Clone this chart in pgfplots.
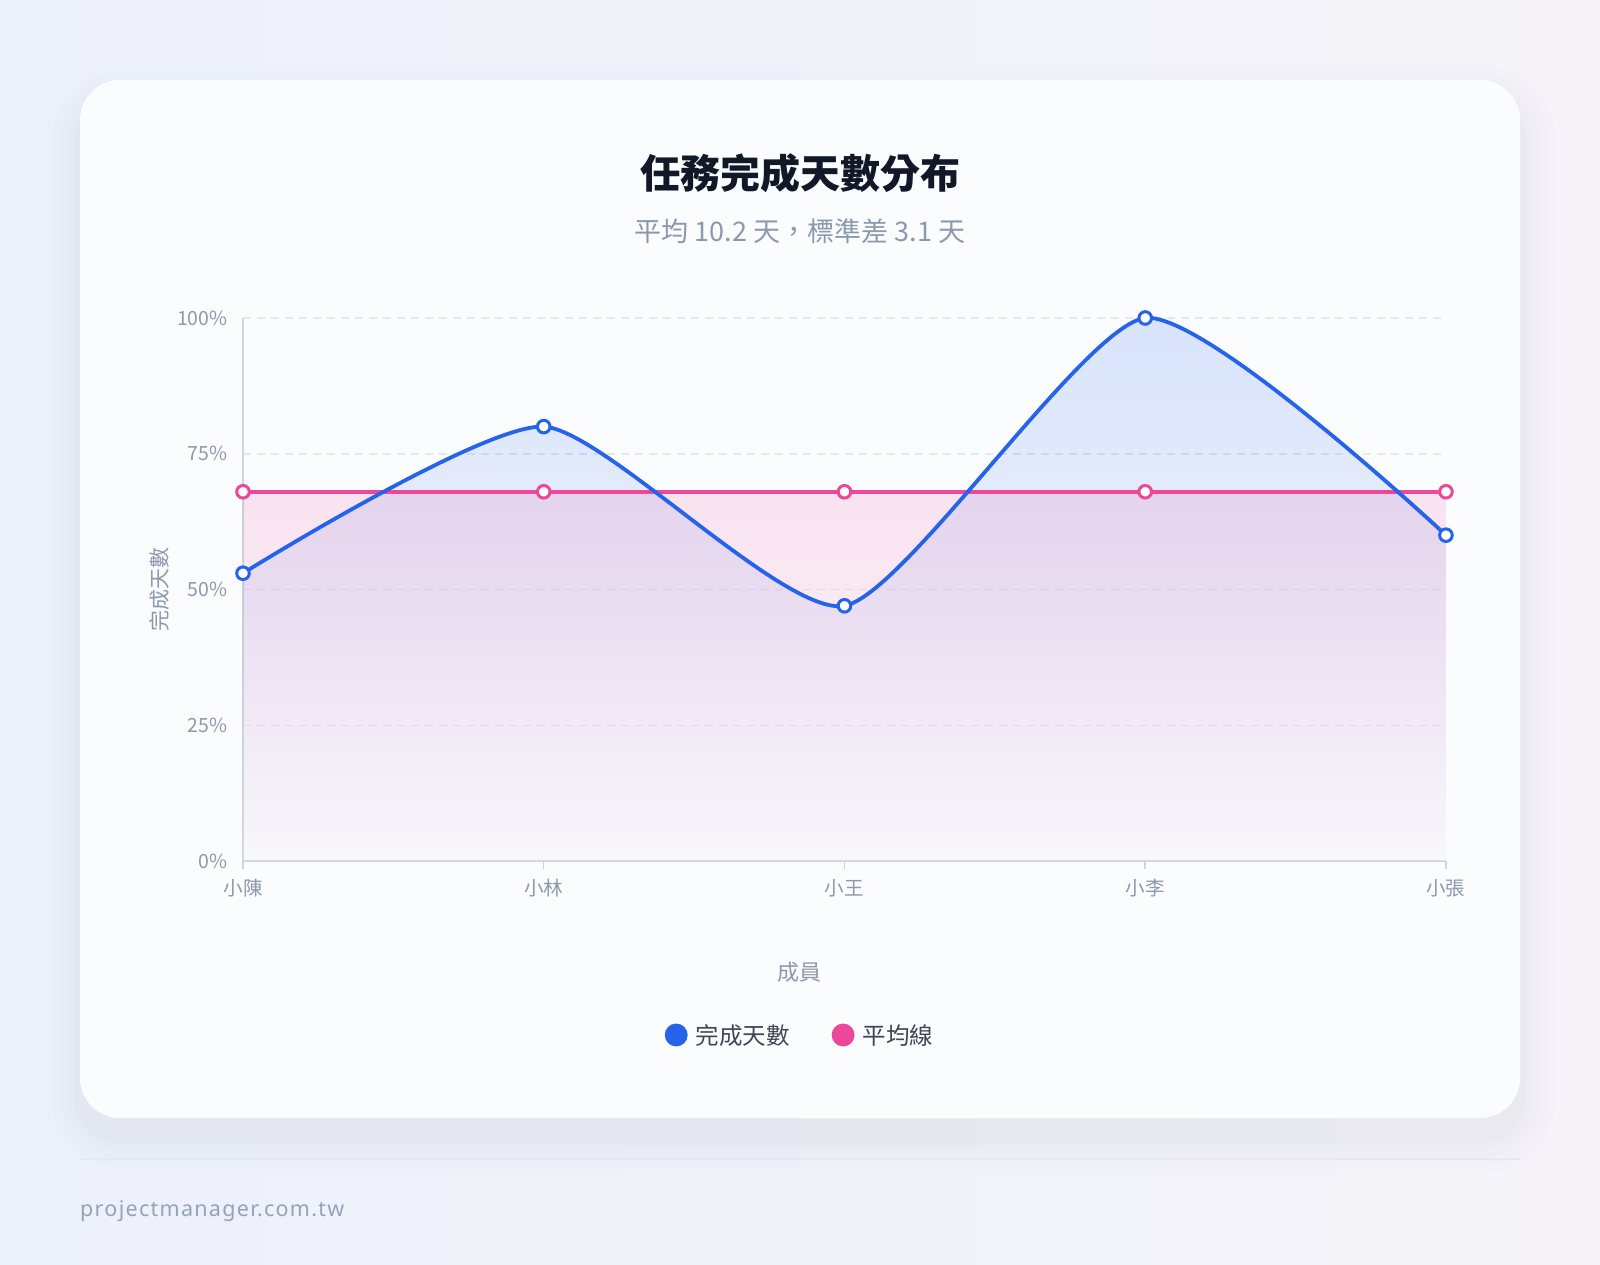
\documentclass[border=0pt]{standalone}
\usepackage{fontspec}
\setmainfont{Noto Sans CJK TC}
\newfontfamily\footfont[LetterSpace=6]{Noto Sans}
\usepackage{pgfplots}
\pgfplotsset{compat=1.18}

\definecolor{bgL}{HTML}{EDF1FB}
\definecolor{bgR}{HTML}{F6F4F9}
\definecolor{cardC}{HTML}{FBFCFE}
\definecolor{titleC}{HTML}{111827}
\definecolor{subC}{HTML}{8C98AB}
\definecolor{tickC}{HTML}{8C98AB}
\definecolor{axisC}{HTML}{CBD5E1}
\definecolor{gridC}{HTML}{E2E8F0}
\definecolor{blueC}{HTML}{2563EB}
\definecolor{pinkC}{HTML}{EC4899}
\definecolor{legC}{HTML}{3F4756}
\definecolor{footC}{HTML}{94A3B8}
\definecolor{ruleC}{HTML}{E6E8EF}
\definecolor{shadowC}{HTML}{6B7280}
\definecolor{fadeC}{HTML}{F4F0F8}

\newcommand{\fs}[1]{\fontsize{#1}{#1}\selectfont}

\begin{document}
\begin{tikzpicture}
% page background
\shade[left color=bgL, right color=bgR] (0pt,0pt) rectangle (1600pt,-1264pt);
% soft card shadow
\foreach \s/\o in {36/0.008, 28/0.010, 20/0.013, 12/0.016, 6/0.02} {
  \fill[shadowC, opacity=\o, rounded corners={(40+\s)*1pt}]
    ({(80-\s)*1pt},{(-100+\s)*1pt}) rectangle ({(1520+\s)*1pt},{(-1138-\s)*1pt});
}
% card
\fill[cardC, rounded corners=40pt] (80pt,-80pt) rectangle (1520pt,-1118pt);

% titles
\node[text=titleC, font=\fs{40}\bfseries] at (800pt,-173pt) {任務完成天數分布};
\node[text=subC, font=\fs{27}] at (800pt,-231pt) {平均 10.2 天，標準差 3.1 天};

\begin{axis}[
  at={(243pt,-861pt)}, anchor=south west,
  scale only axis, width=1203pt, height=543pt,
  xmin=0, xmax=4, ymin=0, ymax=100,
  clip=false,
  axis lines*=left,
  axis line style={draw=axisC, line width=2pt, -},
  xtick={0,1,2,3,4},
  xticklabels={小陳,小林,小王,小李,小張},
  ytick={0,25,50,75,100},
  yticklabel={\pgfmathprintnumber{\tick}\%},
  /pgf/number format/assume math mode=true,
  tick align=outside,
  major tick length=8pt,
  xtick style={draw=axisC, line width=1.5pt},
  ytick style={draw=none},
  ymajorgrids,
  major grid style={draw=gridC, line width=1.5pt, dash pattern=on 8pt off 6pt},
  tick label style={text=tickC, font=\fs{19.5}},
  xticklabel style={yshift=-7pt},
  yticklabel style={xshift=-4pt},
  xlabel={成員},
  ylabel={完成天數},
  every axis x label/.style={at={(axis description cs:0.463,-0.2044)}, anchor=center, text=tickC, font=\fs{22}},
  every axis y label/.style={at={(axis description cs:-0.069,0.5)}, anchor=center, rotate=90, text=tickC, font=\fs{21}},
  legend style={at={(0.463,-0.3204)}, anchor=center, draw=none, fill=none,
    font=\fs{23.5}, text=legC, legend columns=2,
    /tikz/every even column/.append style={column sep=40pt}},
  legend cell align=left,
  reverse legend,
]
% area fills
\addplot[forget plot, draw=none, smooth, tension=0.36, top color=blueC, bottom color=fadeC, fill opacity=0.16]
  coordinates {(0,53) (1,80) (2,47) (3,100) (4,60)} \closedcycle;
\addplot[forget plot, draw=none, top color=pinkC, bottom color=fadeC, fill opacity=0.14]
  coordinates {(0,68) (1,68) (2,68) (3,68) (4,68)} \closedcycle;

% mean line
\addplot[pinkC, line width=3.8pt, mark=*, mark size=6.3pt,
  mark options={fill=white, draw=pinkC, line width=3pt},
  legend image code/.code={\fill[pinkC] (9.5pt,0pt) circle (9.5pt); \path[draw=none, fill=none] (0pt,0pt) -- (27pt,0pt);}]
  coordinates {(0,68) (1,68) (2,68) (3,68) (4,68)};
\addlegendentry{平均線}

% completion days
\addplot[blueC, line width=3.8pt, smooth, tension=0.36, mark=*, mark size=6.3pt,
  mark options={fill=white, draw=blueC, line width=3pt},
  legend image code/.code={\fill[blueC] (9.5pt,0pt) circle (9.5pt); \path[draw=none, fill=none] (0pt,0pt) -- (27pt,0pt);}]
  coordinates {(0,53) (1,80) (2,47) (3,100) (4,60)};
\addlegendentry{完成天數}
\end{axis}

% footer
\draw[ruleC, line width=1.5pt] (80pt,-1159pt) -- (1520pt,-1159pt);
\node[anchor=base west, inner sep=0pt, text=footC, font=\footfont\fs{21.5}] at (80pt,-1216pt) {projectmanager.com.tw};
\end{tikzpicture}
\end{document}
